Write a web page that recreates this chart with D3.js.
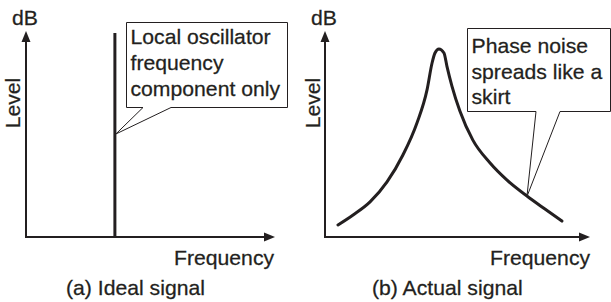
<!DOCTYPE html>
<html>
<head>
<meta charset="utf-8">
<script src="https://cdn.jsdelivr.net/npm/d3@7"></script>
<style>
  html, body { margin: 0; padding: 0; background: #fff; }
  svg { display: block; }
  text { font-family: "Liberation Sans", Arial, Helvetica, sans-serif; fill: #231f20; stroke: #231f20; stroke-width: 0.25px; }
</style>
</head>
<body>
<svg id="chart" width="611" height="302"></svg>
<script>
// ---- data (abstract units: frequency 0..100, level 0..100) ----
const idealFreq = [35.7, 35.7];
const idealLevel = [0, 100];

const actualFreq = [4.9, 10.6, 17.0, 23.4, 29.4, 34.7, 38.5, 40.4, 41.5, 43.0, 44.9, 46.0, 47.9, 50.9, 55.8, 62.3, 68.7, 76.2, 83.0, 89.4];
const actualLevel = [5.9, 10.8, 17.2, 27.0, 40.2, 55.9, 72.1, 85.3, 90.2, 92.2, 90.2, 83.8, 74.0, 61.8, 47.5, 36.3, 27.9, 20.1, 13.7, 7.8];

const yUnit = "dB";
const yTitle = "Level";
const xTitle = "Frequency";
const captions = ["(a) Ideal signal", "(b) Actual signal"];
const idealNote = ["Local oscillator", "frequency", "component only"];
const actualNote = ["Phase noise", "spreads like a", "skirt"];
const idealPointer = {freq: 35.7, level: 50.5};
const actualPointer = {freq: 76.2, level: 19.8};

// ---- layout ----
const svg = d3.select("#chart");
const ink = "#231f20";
const FS = 20, SX = 1.06;

const y = d3.scaleLinear().domain([0, 100]).range([237, 33]);
const xA = d3.scaleLinear().domain([0, 100]).range([26, 275]);
const xB = d3.scaleLinear().domain([0, 100]).range([325, 590]);

function label(g, x, yy, str, rot) {
  g.append("text")
    .attr("transform", `translate(${x},${yy})` + (rot ? ` rotate(${rot})` : "") + ` scale(${SX},1)`)
    .attr("text-anchor", rot ? "middle" : "start")
    .attr("font-size", FS)
    .text(str);
}

function axes(x, o) {
  const g = svg.append("g");
  const x0 = x.range()[0], x1 = x.range()[1];
  const y0 = y.range()[0], yTop = 31;
  g.append("line").attr("x1", x0).attr("x2", x1 - 8).attr("y1", y0).attr("y2", y0)
    .attr("stroke", ink).attr("stroke-width", 2);
  g.append("line").attr("x1", x0).attr("x2", x0).attr("y1", y0 + 1).attr("y2", yTop + 8)
    .attr("stroke", ink).attr("stroke-width", 2);
  g.append("path").attr("d", `M${x1},${y0} L${x1 - 11},${y0 - 4.5} L${x1 - 11},${y0 + 4.5} Z`).attr("fill", ink);
  g.append("path").attr("d", `M${x0},${yTop} L${x0 - 4.5},${yTop + 11} L${x0 + 4.5},${yTop + 11} Z`).attr("fill", ink);
  label(g, o.dbX, 25, yUnit);
  label(g, o.lvX, 103, yTitle, -90);
  label(g, o.frX, 265, xTitle);
  label(g, o.capX, 295, o.cap);
  return g;
}

axes(xA, {dbX: 12, lvX: 20, frX: 174, capX: 66, cap: captions[0]});
axes(xB, {dbX: 311, lvX: 320, frX: 490, capX: 372, cap: captions[1]});

// ideal spike
svg.append("path")
  .datum(d3.zip(idealFreq, idealLevel))
  .attr("d", d3.line().x(d => xA(d[0])).y(d => y(d[1])))
  .attr("fill", "none").attr("stroke", ink).attr("stroke-width", 3);

// actual curve
svg.append("path")
  .datum(d3.zip(actualFreq, actualLevel))
  .attr("d", d3.line().x(d => xB(d[0])).y(d => y(d[1])).curve(d3.curveMonotoneX))
  .attr("fill", "none").attr("stroke", ink).attr("stroke-width", 3).attr("stroke-linecap", "round");

// callouts
function callout(box, gap, tip, lines, lineGap, firstBase) {
  const [bx0, by0, bx1, by1] = box;
  const d = `M${bx0},${by0} H${bx1} V${by1} H${gap[1]} L${tip[0]},${tip[1]} L${gap[0]},${by1} H${bx0} Z`;
  svg.append("path").attr("d", d).attr("fill", "#fff").attr("stroke", ink).attr("stroke-width", 1);
  const g = svg.append("g");
  lines.forEach((t, i) => label(g, bx0 + 4, firstBase + i * lineGap, t));
}

callout([126.5, 22.5, 287.5, 107.5], [143, 171], [xA(idealPointer.freq) + 1, y(idealPointer.level)], idealNote, 26, 44);
callout([467.5, 28.5, 610.5, 111.5], [536, 560], [xB(actualPointer.freq), y(actualPointer.level)], actualNote, 25.5, 53);
</script>
</body>
</html>
